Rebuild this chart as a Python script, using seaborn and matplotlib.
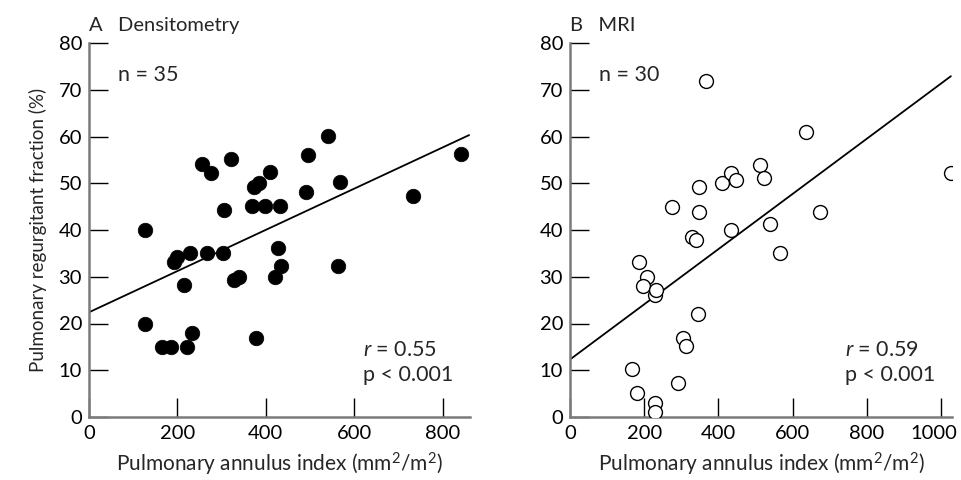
import numpy as np
import pandas as pd
import matplotlib
matplotlib.use("Agg")
import matplotlib.pyplot as plt
import matplotlib.transforms as mtransforms
import seaborn as sns

# Panel A: densitometry (filled markers)
dens_x = [256, 277, 322, 409, 373, 384, 369, 398, 433, 306, 127, 192, 199, 229,
          267, 303, 427, 435, 420, 327, 339, 216, 127, 165, 186, 222, 233, 378,
          495, 842, 491, 568, 732, 563, 540]
dens_y = [54.1, 52.1, 55.1, 52.3, 49.3, 50.0, 45.1, 45.1, 45.1, 44.3, 40.1, 33.2,
          34.2, 35.1, 35.1, 35.1, 36.2, 32.2, 30.0, 29.3, 30.0, 28.2, 20.0, 15.0,
          15.0, 15.0, 18.0, 17.0, 56.1, 56.3, 48.2, 50.2, 47.3, 32.3, 60.2]
dens_fit_x = [0, 860]
dens_fit_y = [22.4, 60.3]

# Panel B: MRI (open markers)
mri_x = [368, 276, 349, 349, 411, 434, 447, 513, 522, 435, 328, 340, 636, 539,
         674, 566, 1027, 186, 207, 196, 230, 231, 346, 306, 313, 166, 291, 181,
         229, 229]
mri_y = [71.9, 45.0, 49.1, 43.9, 50.0, 52.1, 50.8, 54.0, 51.2, 40.0, 38.4, 37.9,
         60.9, 41.2, 43.9, 35.1, 52.1, 33.1, 30.0, 28.0, 26.2, 27.2, 22.0, 17.0,
         15.2, 10.2, 7.2, 5.1, 3.1, 1.0]
mri_fit_x = [0, 1027]
mri_fit_y = [12.3, 72.9]

y_ticks = [0, 10, 20, 30, 40, 50, 60, 70, 80]
xticks_a = [0, 200, 400, 600, 800]
xticks_b = [0, 200, 400, 600, 800, 1000]

sns.set_theme(style="ticks")
plt.rcParams["font.family"] = ["Lato", "DejaVu Sans"]
plt.rcParams["mathtext.fontset"] = "custom"
plt.rcParams["mathtext.it"] = "Lato:italic"
plt.rcParams["mathtext.rm"] = "Lato"

fig = plt.figure(figsize=(9.62, 4.8), dpi=100)
ax_a = fig.add_axes([89 / 962, 63 / 480, 381 / 962, 374 / 480])
ax_b = fig.add_axes([570 / 962, 63 / 480, 382 / 962, 374 / 480])

xlabel = "Pulmonary annulus index (mm$^2$/m$^2$)"
TICK_FS = 14.5
NOTE_FS = 15.5


def style_axis(ax, xlim, xticks):
    ax.set_xlim(*xlim)
    ax.set_ylim(0, 80)
    ax.set_xticks(xticks)
    ax.set_yticks(y_ticks)
    ax.tick_params(direction="in", length=14, width=1, colors="black",
                   labelsize=TICK_FS)
    ax.tick_params(axis="x", pad=6)
    ax.tick_params(axis="y", pad=5)
    for side in ["top", "right"]:
        ax.spines[side].set_visible(False)
    for side in ["left", "bottom"]:
        ax.spines[side].set_color("#7a7a7a")
        ax.spines[side].set_linewidth(1.8)
    ax.set_xlabel(xlabel, fontsize=15, labelpad=6)


def annotate(ax, panel, n_text, r_text):
    ax.text(0.0, 1.033, panel, transform=ax.transAxes,
            fontsize=14.5, ha="left", va="baseline")
    ax.text(0.075, 0.914, n_text, transform=ax.transAxes, fontsize=NOTE_FS,
            va="center")
    ax.text(0.72, 0.179, r_text, transform=ax.transAxes, fontsize=NOTE_FS,
            va="center")
    ax.text(0.72, 0.112, "p < 0.001", transform=ax.transAxes, fontsize=NOTE_FS,
            va="center")


df_a = pd.DataFrame({"x": dens_x, "y": dens_y})
sns.scatterplot(data=df_a, x="x", y="y", ax=ax_a, color="black", s=110,
                edgecolor="black", linewidth=0.5, zorder=3)
sns.lineplot(x=dens_fit_x, y=dens_fit_y, ax=ax_a, color="black", linewidth=1.3)
style_axis(ax_a, (0, 862), xticks_a)
ax_a.set_ylabel("Pulmonary regurgitant fraction (%)", fontsize=13.5, labelpad=8)
annotate(ax_a, "A   Densitometry", "n = 35", "$r$ = 0.55")

df_b = pd.DataFrame({"x": mri_x, "y": mri_y})
sns.scatterplot(data=df_b, x="x", y="y", ax=ax_b, facecolor="white", s=100,
                edgecolor="black", linewidth=1.0, zorder=3)
sns.lineplot(x=mri_fit_x, y=mri_fit_y, ax=ax_b, color="black", linewidth=1.3)
style_axis(ax_b, (0, 1030), xticks_b)
ax_b.set_ylabel("")
annotate(ax_b, "B   MRI", "n = 30", "$r$ = 0.59")

# nudge the last tick label in so it stays inside the figure
last = ax_b.get_xticklabels()[-1]
last.set_transform(last.get_transform() +
                   mtransforms.ScaledTranslation(-7 / 100, 0, fig.dpi_scale_trans))

fig.savefig("out.png", dpi=100)
